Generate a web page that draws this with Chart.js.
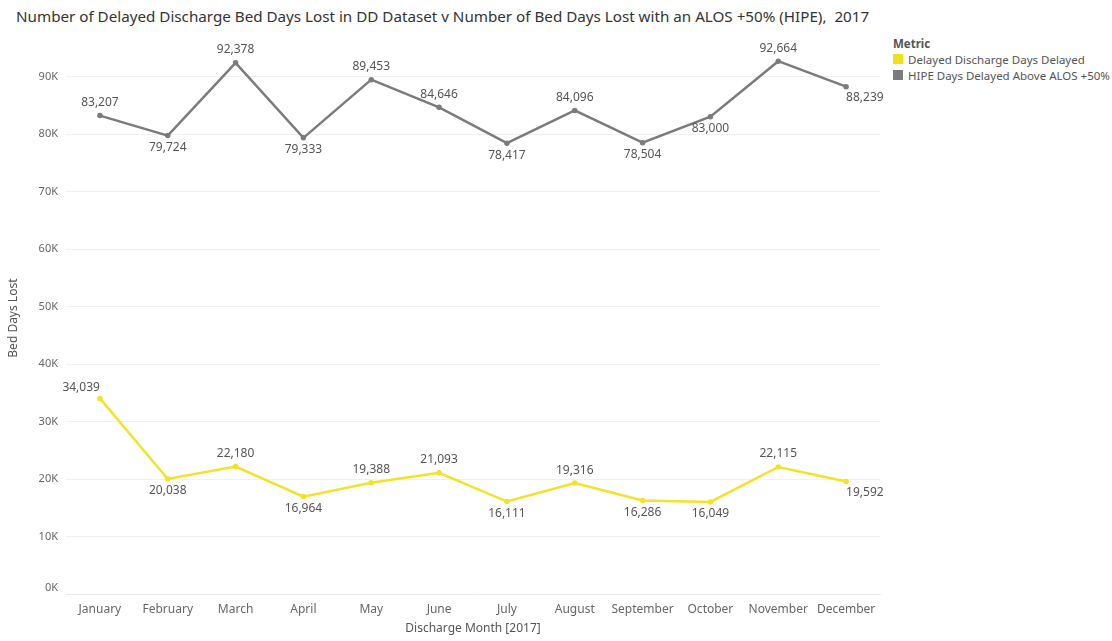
<!DOCTYPE html>
<html>
<head>
<meta charset="utf-8">
<script src="https://cdn.jsdelivr.net/npm/chart.js@4"></script>
<style>
    body { margin: 0; background: #fff; font-family: "Noto Sans", sans-serif; }
    #wrap { position: relative; width: 1112px; height: 641px; }
    #title { position: absolute; left: 16px; top: 6px; font-size: 15.2px; color: #333; white-space: nowrap; }
    #legend { position: absolute; left: 893px; top: 36px; font-size: 11.5px; color: #555; }
    #legend .head { font-weight: bold; color: #555; margin-bottom: 0; }
    #legend .item { display: flex; align-items: center; height: 16px; }
    #legend .sw { width: 10px; height: 10px; margin-right: 5px; }
    canvas { position: absolute; left: 0; top: 0; }
</style>
</head>
<body>
<div id="wrap">
    <div id="title">Number of Delayed Discharge Bed Days Lost in DD Dataset v Number of Bed Days Lost with an ALOS +50% (HIPE),&nbsp; 2017</div>
    <div id="legend">
        <div class="head">Metric</div>
        <div class="item"><span class="sw" style="background:#f2e01c"></span>Delayed Discharge Days Delayed</div>
        <div class="item"><span class="sw" style="background:#7b7b7b"></span>HIPE Days Delayed Above ALOS +50%</div>
    </div>
    <canvas id="chart" width="1112" height="641"></canvas>
</div>
<script>
// Monthly bed days lost, 2017
const months = ['January', 'February', 'March', 'April', 'May', 'June', 'July', 'August', 'September', 'October', 'November', 'December'];
const delayedDischarge = [34039, 20038, 22180, 16964, 19388, 21093, 16111, 19316, 16286, 16049, 22115, 19592];
const hipeAboveAlos = [83207, 79724, 92378, 79333, 89453, 84646, 78417, 84096, 78504, 83000, 92664, 88239];
const yTicks = [0, 10000, 20000, 30000, 40000, 50000, 60000, 70000, 80000, 90000];

// where each value label sits relative to its point
const ddLabelPos = ['left', 'below', 'above', 'below', 'above', 'above', 'below', 'above', 'below', 'below', 'above', 'right'];
const hipeLabelPos = ['above', 'below', 'above', 'below', 'above', 'above', 'below', 'above', 'below', 'below', 'above', 'right'];

const fmt = v => v.toLocaleString('en-US');

// Draws the number next to each point
const valueLabels = {
    id: 'valueLabels',
    afterDatasetsDraw(chart) {
        const ctx = chart.ctx;
        ctx.save();
        ctx.font = '12px "Noto Sans", sans-serif';
        ctx.fillStyle = '#555';
        ctx.textBaseline = 'middle';
        chart.data.datasets.forEach((ds, i) => {
            const meta = chart.getDatasetMeta(i);
            meta.data.forEach((pt, j) => {
                const pos = ds.labelPos[j];
                let x = pt.x, y = pt.y;
                ctx.textAlign = 'center';
                if (pos === 'above') y -= 13;
                else if (pos === 'below') y += 12;
                else if (pos === 'left') { ctx.textAlign = 'right'; y -= 11; }
                else if (pos === 'right') { ctx.textAlign = 'left'; y += 11; }
                ctx.fillText(fmt(ds.data[j]), x, y);
            });
        });
        ctx.restore();
    }
};

new Chart(document.getElementById('chart'), {
    type: 'line',
    data: {
        labels: months,
        datasets: [
            {
                label: 'Delayed Discharge Days Delayed',
                data: delayedDischarge,
                labelPos: ddLabelPos,
                borderColor: '#f2e22a',
                backgroundColor: '#f2e22a',
                borderWidth: 2.5,
                pointRadius: 1.5,
                tension: 0
            },
            {
                label: 'HIPE Days Delayed Above ALOS +50%',
                data: hipeAboveAlos,
                labelPos: hipeLabelPos,
                borderColor: '#7b7b7b',
                backgroundColor: '#7b7b7b',
                borderWidth: 2.5,
                pointRadius: 1.5,
                tension: 0
            }
        ]
    },
    plugins: [valueLabels],
    options: {
        responsive: false,
        animation: false,
        layout: { padding: { left: 6, right: 232, top: 42, bottom: 5 } },
        plugins: {
            legend: { display: false },
            tooltip: { enabled: false }
        },
        scales: {
            x: {
                offset: true,
                grid: { display: false },
                border: { color: '#ebebeb' },
                ticks: { color: '#666', font: { size: 12, family: '"Noto Sans", sans-serif' }, padding: 0, maxRotation: 0, autoSkip: false },
                title: { display: true, text: 'Discharge Month [2017]', color: '#555', font: { size: 12, family: '"Noto Sans", sans-serif' }, padding: { top: 5, bottom: 0 } }
            },
            y: {
                min: 0,
                max: 96000,
                afterBuildTicks: scale => { scale.ticks = yTicks.map(v => ({ value: v })); },
                afterFit: scale => { scale.width = 60; },
                grid: { color: '#f0f0f0', drawTicks: false },
                border: { display: false },
                ticks: {
                    color: '#666',
                    font: { size: 11, family: '"Noto Sans", sans-serif' },
                    padding: 8,
                    // the bottom label sits a little above its gridline
                    callback: v => v === 0 ? ['0K', ''] : (v / 1000) + 'K'
                },
                title: { display: true, text: 'Bed Days Lost', color: '#555', font: { size: 12, family: '"Noto Sans", sans-serif' }, padding: 0 }
            }
        }
    }
});
</script>
</body>
</html>
